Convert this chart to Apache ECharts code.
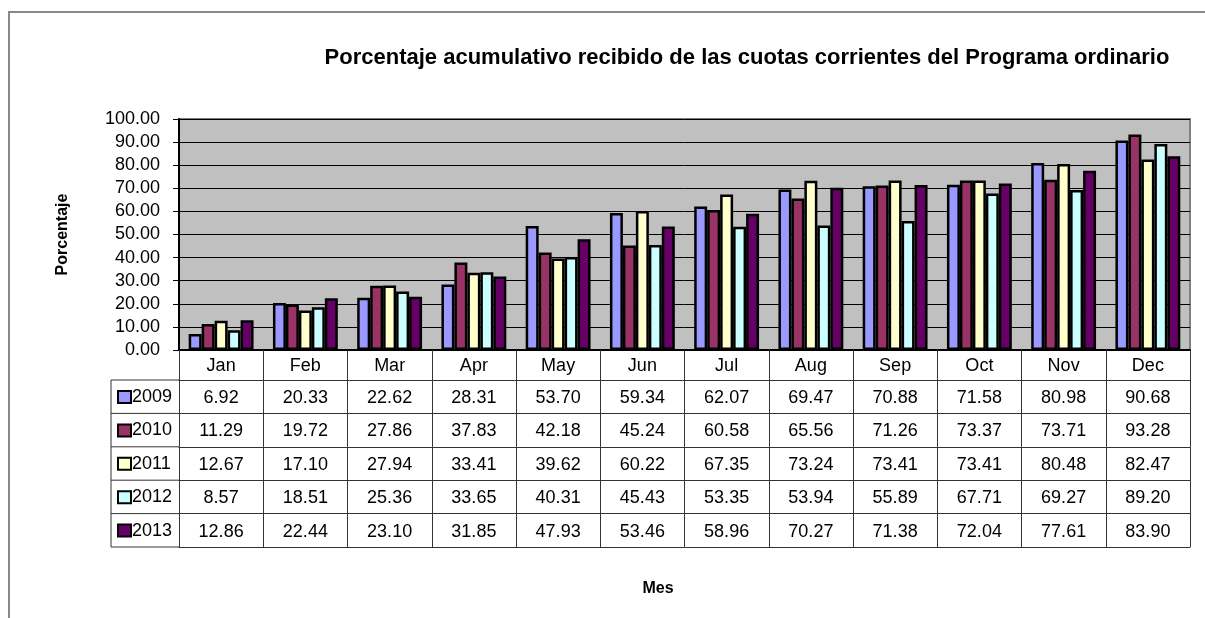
<!DOCTYPE html>
<html>
<head>
<meta charset="utf-8">
<script src="https://cdn.jsdelivr.net/npm/echarts@6/dist/echarts.min.js"></script>
<style>
  html, body { margin: 0; padding: 0; background: #fff; }
  #chart { width: 1205px; height: 618px; }
</style>
</head>
<body>
<div id="chart"></div>
<script>
var months = ['Jan', 'Feb', 'Mar', 'Apr', 'May', 'Jun', 'Jul', 'Aug', 'Sep', 'Oct', 'Nov', 'Dec'];
var years = ['2009', '2010', '2011', '2012', '2013'];
var colors = ['#9999FF', '#993366', '#FFFFCC', '#CCFFFF', '#660066'];
var y2009 = [6.92, 20.33, 22.62, 28.31, 53.70, 59.34, 62.07, 69.47, 70.88, 71.58, 80.98, 90.68];
var y2010 = [11.29, 19.72, 27.86, 37.83, 42.18, 45.24, 60.58, 65.56, 71.26, 73.37, 73.71, 93.28];
var y2011 = [12.67, 17.10, 27.94, 33.41, 39.62, 60.22, 67.35, 73.24, 73.41, 73.41, 80.48, 82.47];
var y2012 = [8.57, 18.51, 25.36, 33.65, 40.31, 45.43, 53.35, 53.94, 55.89, 67.71, 69.27, 89.20];
var y2013 = [12.86, 22.44, 23.10, 31.85, 47.93, 53.46, 58.96, 70.27, 71.38, 72.04, 77.61, 83.90];
var yTicks = [0, 10, 20, 30, 40, 50, 60, 70, 80, 90, 100];

var rows = [y2009, y2010, y2011, y2012, y2013];
var font = "'Liberation Sans Narrow', 'Arial Narrow', 'Liberation Sans', Arial, sans-serif";
var lineCol = '#333';

// plot + data table layout
var gridLeft = 179, gridTop = 119, gridRight = 1190, axisY = 350;
var headH = 30, rowH = 33.4, legLeft = 111;

var myChart = echarts.init(document.getElementById('chart'));

var xAxes = [{
    type: 'category',
    data: months,
    position: 'bottom',
    axisLine: { lineStyle: { color: '#000', width: 2 } },
    axisTick: { show: true, interval: 0, length: headH, lineStyle: { color: lineCol } },
    axisLabel: { interval: 0, margin: 7, fontSize: 18, fontFamily: font, color: '#000' },
    splitLine: { show: false }
}];
// one axis per table row, labels = that year's values
rows.forEach(function (r, i) {
    xAxes.push({
        type: 'category',
        data: months,
        position: 'bottom',
        offset: headH + rowH * i,
        axisLine: { lineStyle: { color: lineCol, width: 1 } },
        axisTick: { show: true, interval: 0, length: rowH, lineStyle: { color: lineCol } },
        axisLabel: {
            interval: 0, margin: 9, fontSize: 18, fontFamily: font, color: '#000',
            formatter: function (v, idx) { return r[idx].toFixed(2); }
        },
        splitLine: { show: false }
    });
});
// bottom line of the table
xAxes.push({
    type: 'category',
    data: months,
    position: 'bottom',
    offset: headH + rowH * 5,
    axisLine: { lineStyle: { color: lineCol, width: 1 } },
    axisTick: { show: false },
    axisLabel: { show: false }
});

var series = rows.map(function (r, i) {
    return {
        name: years[i],
        type: 'bar',
        xAxisIndex: 0,
        data: r,
        barGap: '0%',
        barCategoryGap: '23%',
        itemStyle: { color: colors[i], borderColor: '#000', borderWidth: 2.5 }
    };
});

var legends = years.map(function (y, i) {
    return {
        data: [y],
        left: legLeft + 6,
        top: axisY + headH + rowH * i + 8,
        padding: 0,
        icon: 'rect',
        itemWidth: 13,
        itemHeight: 12,
        selectedMode: false,
        itemStyle: { borderColor: '#000', borderWidth: 2 },
        textStyle: { fontSize: 18, fontFamily: font, color: '#000', padding: [0, 0, 0, -4] }
    };
});

var legendBox = [];
for (var k = 0; k <= 5; k++) {
    var yy = axisY + headH + rowH * k;
    legendBox.push({
        type: 'line',
        shape: { x1: legLeft, y1: yy, x2: gridLeft, y2: yy },
        style: { stroke: lineCol, lineWidth: 1 }
    });
}
legendBox.push({
    type: 'line',
    shape: { x1: legLeft, y1: axisY + headH, x2: legLeft, y2: axisY + headH + rowH * 5 },
    style: { stroke: lineCol, lineWidth: 1 }
});

var option = {
    animation: false,
    backgroundColor: '#fff',
    title: [{
        text: 'Porcentaje acumulativo recibido de las cuotas corrientes del Programa ordinario',
        left: 742,
        top: 42,
        textAlign: 'center',
        textStyle: { fontSize: 22, fontWeight: 'bold', fontFamily: font, color: '#000' }
    }, {
        text: 'Mes',
        left: 653,
        top: 576,
        textAlign: 'center',
        textStyle: { fontSize: 16, fontWeight: 'bold', fontFamily: font, color: '#000' }
    }],
    legend: legends,
    grid: {
        left: gridLeft,
        top: gridTop,
        width: gridRight - gridLeft,
        height: axisY - gridTop,
        show: true,
        backgroundColor: '#C0C0C0',
        borderColor: '#808080',
        borderWidth: 2
    },
    xAxis: xAxes,
    yAxis: {
        type: 'value',
        min: yTicks[0],
        max: yTicks[yTicks.length - 1],
        interval: 10,
        name: 'Porcentaje',
        nameLocation: 'middle',
        nameGap: 108,
        nameRotate: 90,
        nameTextStyle: { fontSize: 16, fontWeight: 'bold', fontFamily: font, color: '#000' },
        axisLine: { show: true, lineStyle: { color: '#000', width: 2 } },
        axisTick: { show: true, length: 6, lineStyle: { color: '#000' } },
        axisLabel: {
            margin: 19, fontSize: 18, fontFamily: font, color: '#000',
            formatter: function (v) { return v.toFixed(2); }
        },
        splitLine: { lineStyle: { color: '#000', width: 1 } }
    },
    graphic: [{
        type: 'rect',
        shape: { x: 9, y: 12, width: 1400, height: 800 },
        style: { fill: 'none', stroke: '#888', lineWidth: 2 }
    }].concat(legendBox),
    series: series
};
myChart.setOption(option);
</script>
</body>
</html>
